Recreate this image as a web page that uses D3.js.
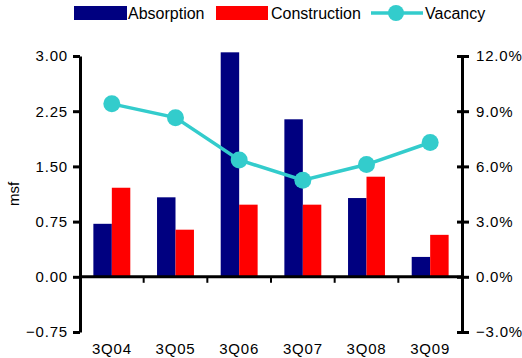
<!DOCTYPE html>
<html>
<head>
<meta charset="utf-8">
<script src="https://cdn.jsdelivr.net/npm/d3@7"></script>
<style>
  body { margin: 0; background: #fff; }
  svg { display: block; font-family: "Liberation Sans", Arial, sans-serif; }
  .axis text { font-size: 15px; letter-spacing: 0.8px; fill: #000; }
  .legend text { font-size: 16px; fill: #000; }
</style>
</head>
<body>
<svg id="chart"></svg>
<script>
// chart data
const quarters = ["3Q04", "3Q05", "3Q06", "3Q07", "3Q08", "3Q09"];
const absorption = [0.72, 1.08, 3.05, 2.14, 1.07, 0.27];
const construction = [1.21, 0.64, 0.98, 0.98, 1.36, 0.57];
const vacancy = [9.4, 8.65, 6.35, 5.25, 6.1, 7.3];
const leftTicks = [-0.75, 0, 0.75, 1.5, 2.25, 3.0];
const rightTicks = [-3, 0, 3, 6, 9, 12];

const config = {
  width: 522, height: 358,
  margin: { top: 56, right: 60, bottom: 26, left: 80 }
};
const colors = { abs: "#000080", con: "#ff0000", vac: "#33cccc" };

const w = config.width - config.margin.left - config.margin.right;
const h = config.height - config.margin.top - config.margin.bottom;

const svg = d3.select("#chart")
  .attr("width", config.width)
  .attr("height", config.height);

const chart = svg.append("g")
  .attr("transform", `translate(${config.margin.left},${config.margin.top})`);

// scales
const x = d3.scaleBand().domain(quarters).range([0, w])
  .paddingInner(0.42).paddingOuter(0.21);
const xSub = d3.scaleBand().domain(["abs", "con"]).range([0, x.bandwidth()]);
const yL = d3.scaleLinear().domain([-0.75, 3.0]).range([h, 0]);
const yR = d3.scaleLinear().domain([-3, 12]).range([h, 0]);

// bars
const rows = quarters.map((q, i) => ({ q, abs: absorption[i], con: construction[i] }));
const groups = chart.selectAll(".grp")
  .data(rows)
  .join("g")
  .attr("class", "grp")
  .attr("transform", d => `translate(${x(d.q)},0)`);

groups.selectAll("rect")
  .data(d => ["abs", "con"].map(k => ({ k, v: d[k] })))
  .join("rect")
  .attr("x", d => xSub(d.k))
  .attr("width", xSub.bandwidth())
  .attr("y", d => yL(Math.max(0, d.v)))
  .attr("height", d => Math.abs(yL(d.v) - yL(0)))
  .attr("fill", d => colors[d.k]);

// zero line with category separators
chart.append("line")
  .attr("x1", 0).attr("x2", w)
  .attr("y1", yL(0)).attr("y2", yL(0))
  .attr("stroke", "#000").attr("stroke-width", 3);

chart.selectAll(".sep")
  .data(d3.range(1, quarters.length))
  .join("line")
  .attr("class", "sep")
  .attr("x1", i => i * x.step()).attr("x2", i => i * x.step())
  .attr("y1", yL(0)).attr("y2", yL(0) + 6)
  .attr("stroke", "#000").attr("stroke-width", 2);

// left axis
const leftAxis = chart.append("g")
  .attr("class", "axis")
  .call(d3.axisLeft(yL).tickValues(leftTicks).tickFormat(d3.format(".2f"))
    .tickSizeOuter(0).tickSizeInner(7).tickPadding(5));
leftAxis.select(".domain").attr("stroke-width", 3);
leftAxis.selectAll(".tick line").attr("stroke-width", 3);

// right axis
const rightAxis = chart.append("g")
  .attr("class", "axis")
  .attr("transform", `translate(${w},0)`)
  .call(d3.axisRight(yR).tickValues(rightTicks).tickFormat(d => d3.format(".1f")(d) + "%")
    .tickSizeOuter(0).tickSizeInner(7).tickPadding(7));
rightAxis.select(".domain").attr("stroke-width", 3);
rightAxis.selectAll(".tick line").attr("x1", -5).attr("stroke-width", 3);

// category labels at the bottom
const bottomAxis = chart.append("g")
  .attr("class", "axis")
  .attr("transform", `translate(0,${h})`)
  .call(d3.axisBottom(x).tickSize(0).tickPadding(11));
bottomAxis.select(".domain").remove();

// y label
chart.append("text")
  .attr("transform", `translate(${-config.margin.left + 19},${h / 2}) rotate(-90)`)
  .attr("text-anchor", "middle")
  .style("font-size", "15px")
  .text("msf");

// vacancy line
const line = d3.line()
  .x((d, i) => x(quarters[i]) + x.bandwidth() / 2)
  .y(d => yR(d));

chart.append("path")
  .datum(vacancy)
  .attr("fill", "none")
  .attr("stroke", colors.vac)
  .attr("stroke-width", 3.5)
  .attr("d", line);

chart.selectAll(".vac")
  .data(vacancy)
  .join("circle")
  .attr("class", "vac")
  .attr("cx", (d, i) => x(quarters[i]) + x.bandwidth() / 2)
  .attr("cy", d => yR(d))
  .attr("r", 8.5)
  .attr("fill", colors.vac);

// legend
const legend = svg.append("g").attr("class", "legend");
legend.append("rect").attr("x", 74).attr("y", 6).attr("width", 53).attr("height", 14).attr("fill", colors.abs);
legend.append("text").attr("x", 128).attr("y", 18.5).text("Absorption");
legend.append("rect").attr("x", 216).attr("y", 6).attr("width", 52).attr("height", 14).attr("fill", colors.con);
legend.append("text").attr("x", 271).attr("y", 18.5).text("Construction");
legend.append("line").attr("x1", 371).attr("x2", 423).attr("y1", 13).attr("y2", 13)
  .attr("stroke", colors.vac).attr("stroke-width", 3.5);
legend.append("circle").attr("cx", 396).attr("cy", 13).attr("r", 8).attr("fill", colors.vac);
legend.append("text").attr("x", 425).attr("y", 18.5).text("Vacancy");
</script>
</body>
</html>
